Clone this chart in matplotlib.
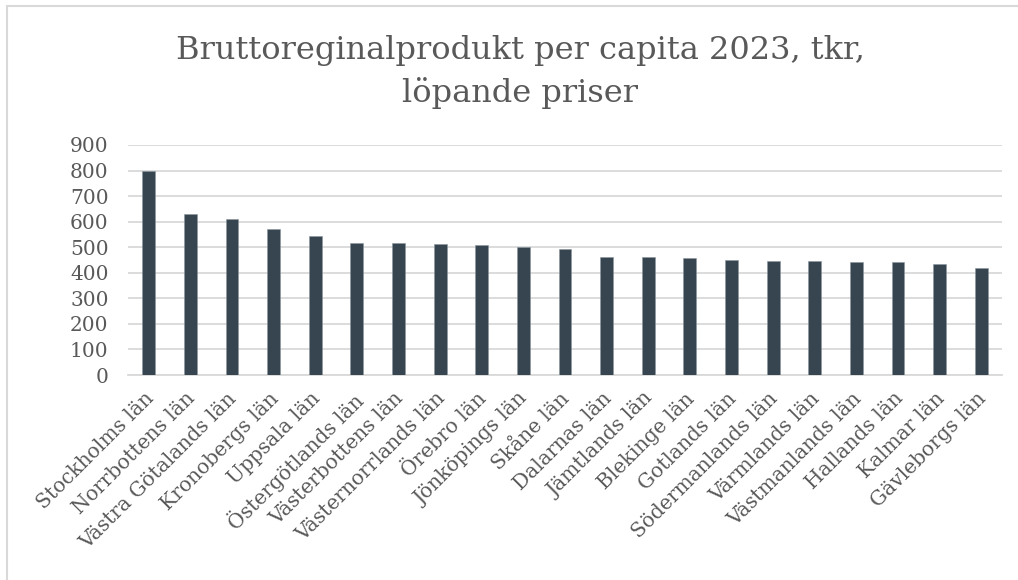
import matplotlib.pyplot as plt
import matplotlib.transforms as mtransforms
from matplotlib.patches import Rectangle

# Data
lan = ["Stockholms län", "Norrbottens län", "Västra Götalands län", "Kronobergs län",
       "Uppsala län", "Östergötlands län", "Västerbottens län", "Västernorrlands län",
       "Örebro län", "Jönköpings län", "Skåne län", "Dalarnas län", "Jämtlands län",
       "Blekinge län", "Gotlands län", "Södermanlands län", "Värmlands län",
       "Västmanlands län", "Hallands län", "Kalmar län", "Gävleborgs län"]
brp_per_capita = [800, 629, 609, 573, 545, 515, 515, 513, 508, 500, 495,
                  463, 463, 459, 451, 448, 445, 444, 442, 433, 418]
yticks = [0, 100, 200, 300, 400, 500, 600, 700, 800, 900]

plt.rcParams['font.family'] = ['DejaVu Serif']
txt_col = '#595959'

fig = plt.figure(figsize=(10.18, 5.8), dpi=100)
ax = fig.add_axes([0.1257, 0.3534, 0.8586, 0.3966])

x = list(range(len(lan)))
ax.bar(x, brp_per_capita, width=0.31, color='#36454f', edgecolor='#8a979e',
       linewidth=0.4, zorder=3)

ax.set_xlim(-0.5, len(lan) - 0.5)
ax.set_ylim(0, 900)
ax.set_yticks(yticks)
ax.set_yticklabels([str(v) for v in yticks], fontsize=14.5, color=txt_col)
ax.yaxis.grid(True, color='#d9d9d9', linewidth=1.3, zorder=0)
ax.tick_params(axis='both', length=0)
ax.tick_params(axis='y', pad=14)

ax.set_xticks(x)
ax.set_xticklabels(lan, rotation=45, ha='right', va='top', rotation_mode='anchor',
                   fontsize=14.5, color=txt_col)
ax.tick_params(axis='x', pad=10)
shift = mtransforms.ScaledTranslation(-5 / 100, 0, fig.dpi_scale_trans)
for lbl in ax.get_xticklabels():
    lbl.set_transform(lbl.get_transform() + shift)

for s in ['top', 'right', 'left']:
    ax.spines[s].set_visible(False)
ax.spines['bottom'].set_color('#d9d9d9')
ax.spines['bottom'].set_linewidth(1.3)

fig.text(0.511, 0.94, "Bruttoreginalprodukt per capita 2023, tkr,\nlöpande priser",
         ha='center', va='top', fontsize=23, color=txt_col, linespacing=1.45)

# chart area border
fig.patches.append(Rectangle((7 / 1018, -0.05), 1.1, 1 - 6 / 580 + 0.05,
                             transform=fig.transFigure, fill=False,
                             edgecolor='#d9d9d9', linewidth=1.5))

fig.savefig('out.png', dpi=100)
